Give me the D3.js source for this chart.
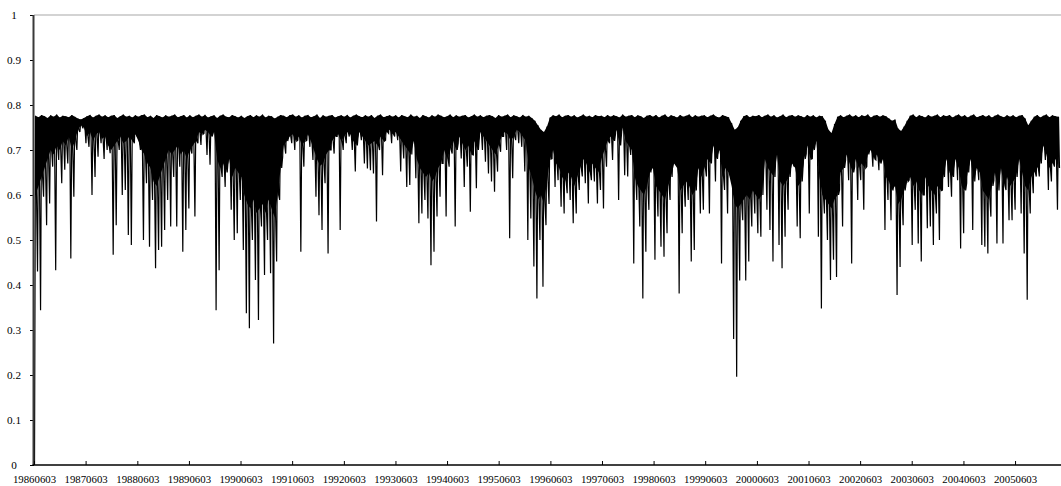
<!DOCTYPE html>
<html>
<head>
<meta charset="utf-8">
<script src="https://cdn.jsdelivr.net/npm/d3@7"></script>
<style>
body { margin: 0; background: #fff; }
svg { display: block; }
text { font-family: "Liberation Serif", "Times New Roman", serif; fill: #000; }
</style>
</head>
<body>
<div id="chart"></div>
<script>
// first and last day of the series
var startDay = "19860603";
var endDay = "20060417";

var tickLabels = ["19860603", "19870603", "19880603", "19890603", "19900603",
    "19910603", "19920603", "19930603", "19940603", "19950603", "19960603",
    "19970603", "19980603", "19990603", "20000603", "20010603", "20020603",
    "20030603", "20040603", "20050603"];

var yTicks = [0, 0.1, 0.2, 0.3, 0.4, 0.5, 0.6, 0.7, 0.8, 0.9, 1];

// local lows, one row per year (June to June)
var troughs = [
  [0.0, 0.43, 0.344, 0.596, 0.533, 0.581, 0.663, 0.433, 0.678, 0.626, 0.656, 0.67, 0.459, 0.596, 0.70, 0.74, 0.748],
  [0.715, 0.707, 0.60, 0.64, 0.685, 0.715, 0.68, 0.70, 0.693, 0.467, 0.533, 0.70, 0.60, 0.611, 0.511, 0.489, 0.715],
  [0.73, 0.70, 0.50, 0.626, 0.485, 0.589, 0.437, 0.478, 0.485, 0.522, 0.589, 0.53, 0.64, 0.53, 0.663, 0.474, 0.522],
  [0.57, 0.692, 0.552, 0.715, 0.711, 0.737, 0.689, 0.667, 0.737, 0.344, 0.433, 0.64, 0.618, 0.678, 0.567, 0.50, 0.515],
  [0.589, 0.478, 0.337, 0.304, 0.50, 0.411, 0.322, 0.53, 0.422, 0.50, 0.426, 0.27, 0.452, 0.589, 0.685, 0.692, 0.73],
  [0.715, 0.70, 0.722, 0.474, 0.663, 0.722, 0.707, 0.678, 0.596, 0.555, 0.522, 0.626, 0.47, 0.70, 0.692, 0.73, 0.522],
  [0.70, 0.715, 0.73, 0.70, 0.652, 0.737, 0.722, 0.67, 0.659, 0.655, 0.648, 0.541, 0.70, 0.644, 0.722, 0.737, 0.715],
  [0.73, 0.722, 0.652, 0.681, 0.618, 0.622, 0.752, 0.637, 0.537, 0.559, 0.589, 0.548, 0.444, 0.474, 0.552, 0.596, 0.67],
  [0.552, 0.663, 0.692, 0.53, 0.715, 0.681, 0.618, 0.663, 0.563, 0.689, 0.615, 0.73, 0.70, 0.674, 0.648, 0.63, 0.607],
  [0.652, 0.696, 0.73, 0.70, 0.504, 0.637, 0.722, 0.715, 0.707, 0.652, 0.50, 0.548, 0.441, 0.37, 0.50, 0.396, 0.533],
  [0.58, 0.681, 0.618, 0.633, 0.574, 0.559, 0.604, 0.589, 0.537, 0.559, 0.611, 0.641, 0.626, 0.581, 0.633, 0.63, 0.581],
  [0.611, 0.57, 0.663, 0.715, 0.678, 0.737, 0.589, 0.74, 0.644, 0.641, 0.689, 0.448, 0.589, 0.53, 0.37, 0.474, 0.567],
  [0.715, 0.456, 0.552, 0.485, 0.463, 0.515, 0.589, 0.70, 0.678, 0.381, 0.515, 0.574, 0.589, 0.452, 0.478, 0.663, 0.559],
  [0.567, 0.641, 0.559, 0.722, 0.63, 0.707, 0.448, 0.611, 0.559, 0.641, 0.28, 0.196, 0.41, 0.544, 0.41, 0.452, 0.53],
  [0.559, 0.515, 0.507, 0.67, 0.567, 0.522, 0.452, 0.70, 0.489, 0.437, 0.507, 0.567, 0.678, 0.663, 0.53, 0.504, 0.67],
  [0.692, 0.559, 0.681, 0.715, 0.507, 0.348, 0.559, 0.50, 0.411, 0.456, 0.418, 0.611, 0.53, 0.678, 0.633, 0.448, 0.663],
  [0.589, 0.633, 0.567, 0.663, 0.707, 0.663, 0.678, 0.655, 0.678, 0.522, 0.589, 0.544, 0.67, 0.378, 0.44, 0.533, 0.626],
  [0.633, 0.489, 0.567, 0.492, 0.452, 0.60, 0.526, 0.53, 0.489, 0.559, 0.50, 0.611, 0.689, 0.618, 0.596, 0.692, 0.633],
  [0.481, 0.515, 0.626, 0.685, 0.522, 0.663, 0.633, 0.489, 0.485, 0.47, 0.552, 0.633, 0.492, 0.655, 0.492, 0.611, 0.544],
  [0.544, 0.567, 0.678, 0.559, 0.47, 0.367, 0.559, 0.604, 0.641, 0.641, 0.715, 0.678, 0.611, 0.63, 0.663, 0.567]
];

// local highs after each low, same layout
var peaks = [
  [0.776, 0.773, 0.778, 0.775, 0.771, 0.777, 0.774, 0.779, 0.772, 0.776, 0.775, 0.773, 0.778, 0.774, 0.770, 0.768, 0.771],
  [0.775, 0.778, 0.772, 0.776, 0.779, 0.774, 0.777, 0.773, 0.776, 0.778, 0.771, 0.775, 0.779, 0.774, 0.776, 0.772, 0.777],
  [0.774, 0.777, 0.779, 0.773, 0.776, 0.771, 0.778, 0.775, 0.772, 0.777, 0.774, 0.776, 0.779, 0.773, 0.775, 0.778, 0.772],
  [0.777, 0.773, 0.776, 0.779, 0.774, 0.778, 0.772, 0.775, 0.777, 0.771, 0.776, 0.779, 0.774, 0.773, 0.778, 0.775, 0.772],
  [0.776, 0.771, 0.775, 0.778, 0.773, 0.777, 0.774, 0.779, 0.772, 0.776, 0.775, 0.770, 0.774, 0.778, 0.776, 0.773, 0.777],
  [0.779, 0.774, 0.777, 0.772, 0.776, 0.778, 0.773, 0.775, 0.779, 0.771, 0.777, 0.774, 0.776, 0.778, 0.772, 0.775, 0.777],
  [0.774, 0.778, 0.772, 0.776, 0.779, 0.775, 0.773, 0.777, 0.774, 0.778, 0.771, 0.776, 0.779, 0.773, 0.775, 0.777, 0.774],
  [0.777, 0.772, 0.778, 0.775, 0.773, 0.779, 0.774, 0.776, 0.771, 0.778, 0.775, 0.772, 0.777, 0.774, 0.779, 0.776, 0.773],
  [0.775, 0.779, 0.773, 0.777, 0.774, 0.776, 0.778, 0.772, 0.775, 0.779, 0.774, 0.777, 0.773, 0.776, 0.778, 0.775, 0.771],
  [0.778, 0.774, 0.776, 0.779, 0.773, 0.777, 0.775, 0.772, 0.778, 0.774, 0.776, 0.771, 0.765, 0.755, 0.745, 0.740, 0.752],
  [0.772, 0.777, 0.775, 0.779, 0.773, 0.776, 0.778, 0.774, 0.777, 0.772, 0.775, 0.779, 0.774, 0.776, 0.773, 0.778, 0.775],
  [0.776, 0.773, 0.778, 0.774, 0.777, 0.775, 0.772, 0.779, 0.774, 0.776, 0.778, 0.773, 0.777, 0.775, 0.771, 0.776, 0.778],
  [0.774, 0.778, 0.772, 0.776, 0.779, 0.773, 0.777, 0.775, 0.772, 0.778, 0.774, 0.776, 0.779, 0.773, 0.777, 0.774, 0.776],
  [0.777, 0.773, 0.776, 0.779, 0.774, 0.772, 0.778, 0.775, 0.773, 0.760, 0.745, 0.750, 0.765, 0.775, 0.778, 0.773, 0.776],
  [0.775, 0.778, 0.773, 0.776, 0.779, 0.774, 0.777, 0.772, 0.775, 0.779, 0.773, 0.776, 0.778, 0.774, 0.777, 0.775, 0.772],
  [0.778, 0.774, 0.777, 0.772, 0.776, 0.775, 0.765, 0.745, 0.738, 0.758, 0.774, 0.777, 0.773, 0.776, 0.779, 0.774, 0.777],
  [0.773, 0.777, 0.775, 0.779, 0.772, 0.776, 0.778, 0.774, 0.777, 0.775, 0.770, 0.765, 0.768, 0.748, 0.742, 0.752, 0.765],
  [0.776, 0.779, 0.773, 0.777, 0.775, 0.772, 0.778, 0.774, 0.776, 0.779, 0.773, 0.777, 0.775, 0.778, 0.772, 0.776, 0.779],
  [0.774, 0.777, 0.772, 0.776, 0.779, 0.773, 0.775, 0.778, 0.774, 0.777, 0.772, 0.776, 0.779, 0.775, 0.773, 0.777, 0.774],
  [0.777, 0.773, 0.776, 0.778, 0.770, 0.755, 0.765, 0.774, 0.778, 0.772, 0.776, 0.779, 0.773, 0.777, 0.775, 0.774]
];

// shallow dips after each high (lower edge of the solid band), same layout
var shallows = [
  [0.60, 0.62, 0.64, 0.66, 0.68, 0.70, 0.69, 0.71, 0.70, 0.72, 0.71, 0.73, 0.70, 0.72, 0.745, 0.755, 0.75],
  [0.73, 0.74, 0.72, 0.735, 0.74, 0.725, 0.73, 0.71, 0.70, 0.71, 0.72, 0.73, 0.715, 0.72, 0.73, 0.72, 0.735],
  [0.72, 0.70, 0.69, 0.67, 0.66, 0.63, 0.62, 0.64, 0.66, 0.68, 0.70, 0.69, 0.70, 0.71, 0.69, 0.70, 0.68],
  [0.70, 0.71, 0.72, 0.74, 0.735, 0.745, 0.74, 0.73, 0.74, 0.68, 0.66, 0.67, 0.65, 0.68, 0.64, 0.66, 0.65],
  [0.64, 0.60, 0.58, 0.57, 0.59, 0.56, 0.57, 0.58, 0.56, 0.59, 0.57, 0.55, 0.60, 0.66, 0.71, 0.72, 0.73],
  [0.735, 0.72, 0.73, 0.71, 0.72, 0.735, 0.72, 0.70, 0.68, 0.665, 0.67, 0.69, 0.70, 0.72, 0.73, 0.735, 0.72],
  [0.73, 0.74, 0.735, 0.72, 0.71, 0.74, 0.73, 0.72, 0.71, 0.715, 0.72, 0.71, 0.73, 0.72, 0.74, 0.745, 0.735],
  [0.74, 0.73, 0.72, 0.71, 0.70, 0.69, 0.72, 0.68, 0.66, 0.65, 0.64, 0.65, 0.63, 0.64, 0.66, 0.67, 0.70],
  [0.68, 0.70, 0.72, 0.70, 0.73, 0.715, 0.70, 0.71, 0.69, 0.72, 0.70, 0.74, 0.73, 0.72, 0.71, 0.70, 0.69],
  [0.71, 0.73, 0.74, 0.735, 0.72, 0.73, 0.745, 0.74, 0.73, 0.72, 0.66, 0.64, 0.61, 0.59, 0.60, 0.58, 0.63],
  [0.68, 0.70, 0.67, 0.66, 0.64, 0.63, 0.65, 0.64, 0.62, 0.64, 0.66, 0.68, 0.67, 0.65, 0.67, 0.66, 0.65],
  [0.68, 0.70, 0.72, 0.73, 0.72, 0.745, 0.71, 0.75, 0.72, 0.71, 0.70, 0.64, 0.62, 0.61, 0.60, 0.62, 0.65],
  [0.66, 0.62, 0.61, 0.60, 0.59, 0.62, 0.64, 0.67, 0.66, 0.61, 0.62, 0.63, 0.62, 0.60, 0.61, 0.66, 0.64],
  [0.66, 0.68, 0.67, 0.71, 0.68, 0.70, 0.64, 0.66, 0.65, 0.62, 0.58, 0.57, 0.58, 0.59, 0.60, 0.59, 0.61],
  [0.60, 0.59, 0.60, 0.68, 0.66, 0.65, 0.64, 0.69, 0.63, 0.62, 0.63, 0.64, 0.67, 0.66, 0.62, 0.63, 0.68],
  [0.71, 0.68, 0.70, 0.72, 0.64, 0.60, 0.59, 0.58, 0.57, 0.59, 0.60, 0.65, 0.66, 0.69, 0.67, 0.65, 0.68],
  [0.66, 0.67, 0.66, 0.69, 0.70, 0.68, 0.69, 0.67, 0.68, 0.64, 0.63, 0.61, 0.62, 0.58, 0.59, 0.61, 0.63],
  [0.64, 0.62, 0.63, 0.61, 0.60, 0.64, 0.62, 0.61, 0.60, 0.62, 0.61, 0.64, 0.68, 0.65, 0.64, 0.68, 0.66],
  [0.62, 0.61, 0.65, 0.68, 0.63, 0.66, 0.65, 0.61, 0.60, 0.59, 0.62, 0.65, 0.61, 0.66, 0.62, 0.64, 0.62],
  [0.63, 0.64, 0.68, 0.65, 0.62, 0.61, 0.64, 0.65, 0.66, 0.67, 0.71, 0.69, 0.66, 0.67, 0.68, 0.66]
];

var width = 1061, height = 486;
var plotLeft = 34, plotRight = 1060, plotTop = 15, plotBottom = 465;

var parseDay = d3.timeParse("%Y%m%d");
var t0 = parseDay(startDay), t1 = parseDay(endDay);

// low, high, shallow dip, low, high, ...
var lows = d3.merge(troughs), highs = d3.merge(peaks), dips = d3.merge(shallows);
var vals = [];
for (var k = 0; k < lows.length; k++) {
    vals.push(lows[k]);
    vals.push(highs[k]);
    vals.push(dips[k]);
}
var step = (t1 - t0) / vals.length;
var dateAt = function(i) { return new Date(+t0 + (i + 0.5) * step); };
var series = vals.map(function(v, i) {
    return { date: dateAt(i), v: v };
});
// the solid band between the highs and the shallow dips
var band = highs.map(function(h, k) {
    return { date: dateAt(3 * k + 1), hi: h, lo: dips[k] };
});

var svg = d3.select("#chart")
  .append("svg")
    .attr("width", width)
    .attr("height", height);

var x = d3.scaleTime()
    .domain([t0, t1])
    .range([plotLeft, plotRight]);

var y = d3.scaleLinear()
    .domain([0, 1])
    .range([plotBottom, plotTop]);

// top border
svg.append("line")
    .attr("x1", plotLeft).attr("x2", width)
    .attr("y1", y(1)).attr("y2", y(1))
    .attr("stroke", "#c4c4c4")
    .attr("stroke-width", 1.5);

var area = d3.area()
    .x(function(d) { return x(d.date); })
    .y0(function(d) { return y(d.lo); })
    .y1(function(d) { return y(d.hi); });

svg.append("path")
    .datum(band)
    .attr("fill", "#000")
    .attr("d", area);

// the series
var line = d3.line()
    .x(function(d) { return x(d.date); })
    .y(function(d) { return y(d.v); });

svg.append("path")
    .datum(series)
    .attr("fill", "none")
    .attr("stroke", "#000")
    .attr("stroke-width", 1.2)
    .attr("d", line);

// Y axis
var yAxis = svg.append("g")
    .attr("transform", "translate(" + plotLeft + ",0)")
    .call(d3.axisLeft(y)
        .tickValues(yTicks)
        .tickSizeInner(4)
        .tickSizeOuter(0)
        .tickFormat(function(d) { return String(+d.toFixed(1)); }));
yAxis.select(".domain").remove();
yAxis.selectAll(".tick line").attr("stroke", "#000");
yAxis.selectAll("text")
    .attr("x", 14 - plotLeft)
    .attr("dy", "0.33em")
    .style("text-anchor", "middle")
    .style("font-size", "11.2px")
    .style("font-family", '"Liberation Serif", serif');

svg.append("line")
    .attr("x1", plotLeft - 0.5).attr("x2", plotLeft - 0.5)
    .attr("y1", plotTop).attr("y2", plotBottom)
    .attr("stroke", "#3a3a3a")
    .attr("stroke-width", 2);

// X axis
var tickDates = tickLabels.map(function(s) { return parseDay(s); });
var xAxis = svg.append("g")
    .attr("transform", "translate(0," + plotBottom + ")")
    .call(d3.axisBottom(x)
        .tickValues(tickDates)
        .tickSizeInner(-4)
        .tickSizeOuter(0)
        .tickFormat(d3.timeFormat("%Y%m%d")));
xAxis.select(".domain").remove();
xAxis.selectAll(".tick line").attr("stroke", "#000");
xAxis.selectAll("text")
    .attr("y", 18)
    .attr("dy", 0)
    .style("font-size", "10.8px")
    .style("font-family", '"Liberation Serif", serif');

svg.append("line")
    .attr("x1", plotLeft - 1.5).attr("x2", width)
    .attr("y1", plotBottom).attr("y2", plotBottom)
    .attr("stroke", "#000")
    .attr("stroke-width", 1.5);
</script>
</body>
</html>
